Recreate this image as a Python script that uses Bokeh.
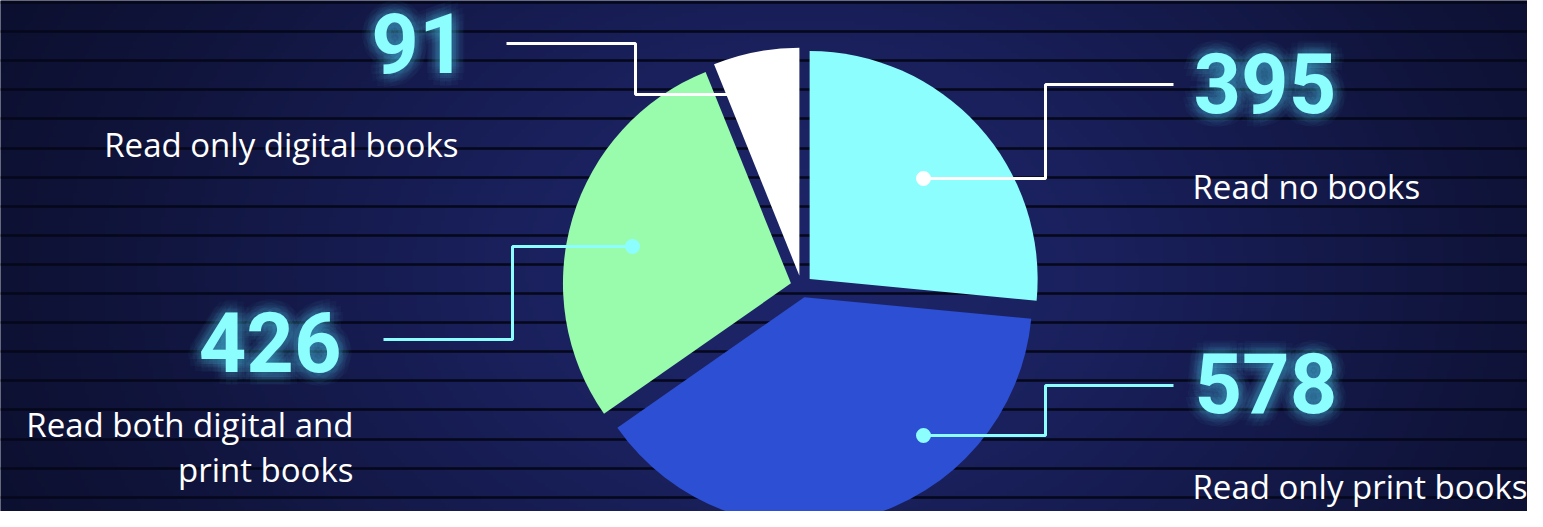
import numpy as np
from bokeh.plotting import figure
from bokeh.models import ColumnDataSource, Range1d
from bokeh.core.properties import value
from bokeh.embed import file_html
from bokeh.resources import INLINE

# ---------------- data ----------------
categories = ["Read no books", "Read only print books",
              "Read both digital and\nprint books", "Read only digital books"]
counts = [395, 578, 426, 91]
slice_colors = ["#8cfefe", "#2c4fd3", "#99fcad", "#ffffff"]
number_labels = [str(c) for c in counts]

# ---------------- layout (pixel coordinates, y downward) ----------------
W, H = 1527, 511
CX, CY, R, EXPL = 801, 286, 228, 11
NUM_SIZE, LAB_SIZE = 83, 33
NUM_SHIFT, LAB_SHIFT = 0.375 * NUM_SIZE, 0.385 * LAB_SIZE  # alphabetic-baseline compensation

connectors = [
    [(923, 178), (1045, 178), (1045, 84), (1173, 84)],
    [(923, 435), (1045, 435), (1045, 385), (1173, 385)],
    [(632, 246), (512, 246), (512, 339), (383, 339)],
    [(760, 94), (635, 94), (635, 43), (506, 43)],
]
conn_colors = ["#ffffff", "#8cfefe", "#8cfefe", "#ffffff"]
num_pos = [(1193, 114), (1194, 414), (341, 373), (466, 74)]
lab_pos = [(1192, 199), (1192, 499), (353, 437), (458, 157)]
aligns = ["left", "left", "right", "right"]

p = figure(width=W, height=H, x_range=Range1d(0, W), y_range=Range1d(-H, 0),
           output_backend="svg", toolbar_location=None,
           x_axis_location=None, y_axis_location=None, min_border=0)
p.grid.visible = False
p.outline_line_color = None
p.background_fill_color = "#0c1030"
p.border_fill_color = "#0c1030"

# ---- background radial glow ----
gw, gh = 382, 128
gx = (np.arange(gw) + 0.5) * W / gw
gy = H - (np.arange(gh) + 0.5) * H / gh
GX, GY = np.meshgrid(gx, gy)
f = np.exp(-((GX - 800) / 700) ** 2 - ((GY - 270) / 520) ** 2)
c_in = np.array([29, 37, 104], dtype=float)
c_out = np.array([8, 10, 32], dtype=float)
rgb = c_out + (c_in - c_out) * f[..., None]
img = np.empty((gh, gw), dtype=np.uint32)
view = img.view(dtype=np.uint8).reshape((gh, gw, 4))
view[..., :3] = np.clip(rgb, 0, 255).astype(np.uint8)
view[..., 3] = 255
p.image_rgba(image=[img], x=0, y=-H, dw=W, dh=H)

# ---- stripes ----
stripe_y = 2 + 29.1 * np.arange(19)
p.hspan(y=-stripe_y, line_color="#05071a", line_width=2.5)

# ---- pie ----
total = float(sum(counts))
cum = np.concatenate([[0.0], np.cumsum(counts) / total]) * 2 * np.pi
start = np.pi / 2 - cum[1:]
end = np.pi / 2 - cum[:-1]
mid = (start + end) / 2
src = ColumnDataSource(dict(
    x=CX + EXPL * np.cos(mid), y=-CY + EXPL * np.sin(mid),
    start=start, end=end, color=slice_colors, cat=categories, n=counts))
p.wedge(x="x", y="y", radius=R, start_angle="start", end_angle="end",
        fill_color="color", line_color=None, source=src)

# ---- connectors ----
p.multi_line(xs=[[pt[0] for pt in c] for c in connectors],
             ys=[[-pt[1] for pt in c] for c in connectors],
             line_color=conn_colors, line_width=3)
p.scatter(x=[c[0][0] for c in connectors], y=[-c[0][1] for c in connectors],
          size=15, fill_color=conn_colors, line_color=None)

# ---- numbers with glow ----
nsrc = ColumnDataSource(dict(x=[q[0] for q in num_pos], y=[-q[1] + NUM_SHIFT for q in num_pos],
                             t=number_labels, a=aligns))
for rad in (13, 9, 5):
    for k in range(12):
        ang = 2 * np.pi * k / 12
        p.text(x="x", y="y", text="t", text_align="a", source=nsrc,
               x_offset=rad * np.cos(ang), y_offset=rad * np.sin(ang),
               text_font=value("Roboto"), text_font_style="bold",
               text_font_size=f"{NUM_SIZE}px",
               text_baseline="alphabetic", text_color="#6fd6ff", text_alpha=0.03)
p.text(x="x", y="y", text="t", text_align="a", source=nsrc,
       text_font=value("Roboto"), text_font_style="bold", text_font_size=f"{NUM_SIZE}px",
       text_baseline="alphabetic", text_color="#8cfefe")

# ---- category labels ----
lx, ly, lt, la = [], [], [], []
for cat, (x, y), al in zip(categories, lab_pos, aligns):
    for i, line in enumerate(cat.split("\n")):
        lx.append(x); ly.append(-(y + 45 * i) + LAB_SHIFT); lt.append(line); la.append(al)
p.text(x=lx, y=ly, text=lt, text_align=la, text_baseline="alphabetic",
       text_font=value("Open Sans"), text_font_size=f"{LAB_SIZE}px", text_color="#ffffff")

open("out.html", "w").write(file_html(p, INLINE))
